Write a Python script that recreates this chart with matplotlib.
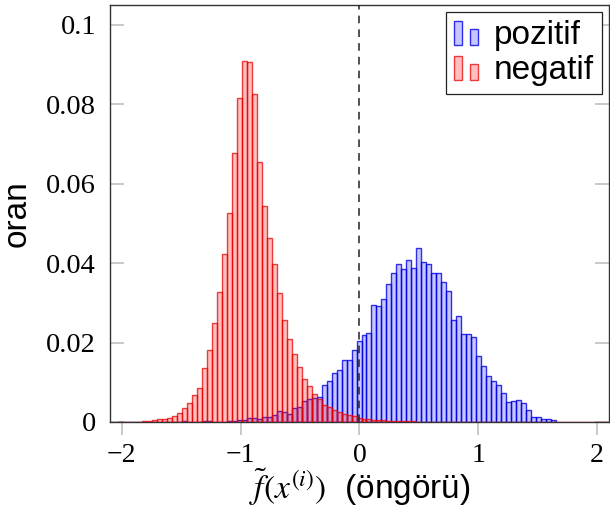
"""
Histogram of predictions: pozitif vs negatif
"""

import matplotlib
matplotlib.use("Agg")
import matplotlib.pyplot as plt
from matplotlib.legend_handler import HandlerBase
from matplotlib.patches import Patch, Rectangle
import numpy as np

# bin grid shared by both series
bin_start = -2.036
bin_width = 0.0419

neg_heights = [
    0, 0, 0.0001, 0.0001, 0.0001, 0.0002, 0.0003, 0.0004, 0.0007, 0.0008,
    0.0011, 0.0014, 0.0022, 0.0036, 0.0048, 0.0067, 0.0086, 0.0136, 0.0180, 0.0250,
    0.0327, 0.0423, 0.0527, 0.0676, 0.0815, 0.0908, 0.0907, 0.0827, 0.0654, 0.0544,
    0.0464, 0.0398, 0.0326, 0.0258, 0.0208, 0.0171, 0.0138, 0.0109, 0.0091, 0.0071,
    0.0057, 0.0044, 0.0038, 0.0031, 0.0024, 0.0021, 0.0017, 0.0014, 0.0010, 0.0008,
    0.0007, 0.0006, 0.0005, 0.0004, 0.0003, 0.0003, 0.0003, 0.0002, 0.0002, 0.0002,
    0.0001, 0.0001, 0.0001, 0.0001, 0.0001, 0, 0, 0, 0, 0,
    0, 0, 0, 0, 0, 0, 0, 0, 0, 0,
    0, 0, 0, 0, 0, 0, 0, 0, 0, 0,
    0, 0, 0, 0, 0, 0, 0, 0, 0, 0,
]

pos_heights = [
    0, 0, 0, 0, 0, 0, 0, 0, 0, 0,
    0, 0, 0, 0.0002, 0, 0, 0.0001, 0.0002, 0.0002, 0.0001,
    0.0001, 0.0001, 0.0003, 0.0003, 0.0004, 0.0004, 0.0010, 0.0010, 0.0008, 0.0013,
    0.0013, 0.0018, 0.0028, 0.0026, 0.0019, 0.0035, 0.0039, 0.0053, 0.0057, 0.0061,
    0.0063, 0.0093, 0.0102, 0.0123, 0.0130, 0.0155, 0.0157, 0.0182, 0.0204, 0.0220,
    0.0223, 0.0295, 0.0293, 0.0310, 0.0348, 0.0375, 0.0398, 0.0384, 0.0407, 0.0388,
    0.0437, 0.0403, 0.0398, 0.0374, 0.0374, 0.0353, 0.0331, 0.0256, 0.0267, 0.0222,
    0.0222, 0.0213, 0.0165, 0.0140, 0.0116, 0.0102, 0.0094, 0.0072, 0.0050, 0.0052,
    0.0055, 0.0047, 0.0030, 0.0013, 0.0013, 0.0008, 0.0007, 0.0006,
]

x_ticks = [-2, -1, 0, 1, 2]
x_tick_labels = ["\u22122", "\u22121", "0", "1", "2"]
y_ticks = [0, 0.02, 0.04, 0.06, 0.08, 0.1]
y_tick_labels = ["0", "0.02", "0.04", "0.06", "0.08", "0.1"]

plt.rcParams['mathtext.fontset'] = 'stix'


class TwoBars(HandlerBase):
    # pgfplots-like ybar legend image
    def create_artists(self, legend, orig, xd, yd, w, h, fontsize, trans):
        kw = dict(facecolor=orig.get_facecolor(), edgecolor=orig.get_edgecolor(),
                  linewidth=orig.get_linewidth(), transform=trans)
        r1 = Rectangle((-xd + 0.0 * w, -yd - 0.1 * h), 0.32 * w, 1.15 * h, **kw)
        r2 = Rectangle((-xd + 0.66 * w, -yd - 0.1 * h), 0.32 * w, 0.75 * h, **kw)
        return [r1, r2]


fig = plt.figure(figsize=(6.1, 5.13), dpi=100)
ax = fig.add_axes([0.1803, 0.1774, 0.818, 0.813])

pos_face = (0, 0, 1, 0.22)
pos_edge = (0, 0, 0.9, 0.8)
neg_face = (1, 0, 0, 0.25)
neg_edge = (0.9, 0, 0, 0.75)

pos_left = bin_start + bin_width * np.arange(len(pos_heights))
neg_left = bin_start + bin_width * np.arange(len(neg_heights))

ax.bar(pos_left, pos_heights, width=bin_width, align='edge',
       facecolor=pos_face, edgecolor=pos_edge, linewidth=1.0, zorder=2)
ax.bar(neg_left, neg_heights, width=bin_width, align='edge',
       facecolor=neg_face, edgecolor=neg_edge, linewidth=1.0, zorder=3)

ax.axvline(0, color='#222222', linestyle=(0, (5, 4)), linewidth=1.1, zorder=4)

ax.set_xlim(-2.1, 2.1)
ax.set_ylim(0, 0.105)

ax.set_xticks(x_ticks)
ax.set_xticklabels(x_tick_labels, family='Liberation Serif', fontsize=20)
ax.set_yticks(y_ticks)
ax.set_yticklabels(y_tick_labels, family='Liberation Serif', fontsize=20.5)
ax.tick_params(axis='x', direction='out', length=9, width=1.2, color='#c0c0c0', pad=6)
ax.tick_params(axis='y', direction='in', length=10, width=1.2, color='#c0c0c0',
               right=True, pad=10)

for side in ['left', 'top', 'right', 'bottom']:
    ax.spines[side].set_color('#333333')
    ax.spines[side].set_linewidth(1.0)

ax.set_xlabel(r"$\tilde{f}(x^{(i)})$  (öngörü)", family='Liberation Sans',
              fontsize=24, labelpad=-1)
ax.set_ylabel("oran", family='Liberation Sans', fontsize=24, labelpad=10)

handles = [Patch(facecolor=pos_face, edgecolor=pos_edge, linewidth=1.0),
           Patch(facecolor=neg_face, edgecolor=neg_edge, linewidth=1.0)]
leg = ax.legend(handles, ["pozitif", "negatif"], loc='upper right',
                handler_map={Patch: TwoBars()}, prop={'family': 'Liberation Sans', 'size': 24},
                frameon=True, fancybox=False, edgecolor='#222222', framealpha=1,
                borderpad=0.25, handlelength=0.75, handleheight=0.6, handletextpad=0.45,
                labelspacing=0.12, borderaxespad=0.2)
leg.get_frame().set_linewidth(0.9)

fig.savefig("out.png", dpi=100)
